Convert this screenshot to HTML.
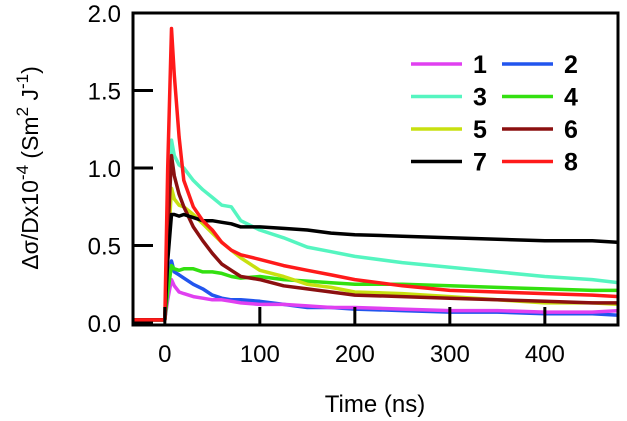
<!DOCTYPE html>
<html><head><meta charset="utf-8"><style>
html,body{margin:0;padding:0;background:#fff;}
svg{display:block;font-family:"Liberation Sans",sans-serif;}
</style></head><body>
<svg id="chart" width="627" height="421" viewBox="0 0 627 421" xmlns="http://www.w3.org/2000/svg">
<g id="series"></g>
<rect x="133" y="13" width="485" height="312" fill="none" stroke="#000" stroke-width="3"/>
<g id="axes"></g>
<g id="legend"></g>
<text x="375" y="412" font-size="24" text-anchor="middle">Time (ns)</text>
<text transform="translate(38,168) rotate(-90)" font-size="23" text-anchor="middle">Δσ/Dx10<tspan dy="-10" font-size="17">-4</tspan><tspan dy="10">  (Sm</tspan><tspan dy="-10" font-size="17">2</tspan><tspan dy="10"> J</tspan><tspan dy="-10" font-size="17">-1</tspan><tspan dy="10">)</tspan></text>
</svg>
<script>
const times = [-33,-3,0,3,7,10,15,20,30,40,50,60,70,80,100,125,150,175,200,250,300,350,400,450,478];
const s1 = [0.02,0.02,0.02,0.15,0.28,0.24,0.2,0.19,0.17,0.16,0.15,0.15,0.14,0.13,0.12,0.12,0.11,0.1,0.1,0.09,0.08,0.08,0.07,0.07,0.08];
const s2 = [0.02,0.02,0.02,0.2,0.4,0.33,0.31,0.29,0.25,0.22,0.18,0.16,0.15,0.15,0.14,0.12,0.1,0.1,0.09,0.08,0.07,0.07,0.06,0.06,0.05];
const s3 = [0.02,0.02,0.02,0.6,1.18,1.08,1.02,1.0,0.92,0.86,0.81,0.76,0.75,0.66,0.6,0.55,0.49,0.46,0.43,0.39,0.36,0.33,0.3,0.28,0.26];
const s4 = [0.02,0.02,0.02,0.2,0.37,0.35,0.34,0.35,0.35,0.33,0.33,0.32,0.3,0.29,0.3,0.28,0.27,0.26,0.25,0.25,0.24,0.23,0.22,0.21,0.21];
const s5 = [0.02,0.02,0.02,0.45,0.87,0.8,0.76,0.75,0.7,0.64,0.58,0.52,0.47,0.42,0.34,0.3,0.25,0.23,0.2,0.19,0.17,0.15,0.13,0.13,0.12];
const s6 = [0.02,0.02,0.02,0.55,1.08,0.95,0.83,0.75,0.62,0.53,0.45,0.38,0.34,0.3,0.28,0.24,0.22,0.2,0.18,0.17,0.16,0.15,0.14,0.13,0.13];
const s7 = [0.02,0.02,0.02,0.4,0.7,0.7,0.69,0.7,0.68,0.66,0.66,0.65,0.64,0.62,0.62,0.61,0.6,0.58,0.57,0.56,0.55,0.54,0.53,0.53,0.52];
const s8 = [0.02,0.02,0.02,1.0,1.9,1.6,1.2,0.92,0.75,0.66,0.6,0.52,0.47,0.44,0.41,0.37,0.34,0.31,0.28,0.24,0.21,0.2,0.19,0.18,0.17];
const seriesNames = ["1","2","3","4","5","6","7","8"];
const seriesColors = ["#e040f0","#2255ee","#55f5c0","#33e010","#c8e010","#8b1010","#000000","#ff1a1a"];
const seriesData = [s1,s2,s3,s4,s5,s6,s7,s8];
const drawOrder = [1,0,3,2,4,5,6,7];
const xTicks = [0,100,200,300,400];
const xTickLabels = ["0","100","200","300","400"];
const yTicks = [0,0.5,1,1.5,2];
const yTickLabels = ["0.0","0.5","1.0","1.5","2.0"];

const NS="http://www.w3.org/2000/svg";
const X0=133,X1=618,Y0=323,Y1=13;
const xmin=-33.5,xmax=477,ymin=0,ymax=2;
function xs(t){return X0+(t-xmin)/(xmax-xmin)*(X1-X0);}
function ys(v){return Y0-(v-ymin)/(ymax-ymin)*(Y0-Y1);}
function mk(tag,attrs,parent){const e=document.createElementNS(NS,tag);for(const k in attrs)e.setAttribute(k,attrs[k]);parent.appendChild(e);return e;}

const sg=document.getElementById('series');
drawOrder.forEach(i=>{
  const d=seriesData[i].map((v,j)=>(j?'L':'M')+xs(times[j]).toFixed(1)+','+ys(v).toFixed(1)).join('');
  const p=mk('path',{d:d,fill:'none',stroke:seriesColors[i],'stroke-width':3.5,'stroke-linejoin':'round'},sg);
  
  
});

const ax=document.getElementById('axes');
xTicks.forEach((t,i)=>{
  const l=mk('line',{x1:xs(t),x2:xs(t),y1:325,y2:307,stroke:'#000','stroke-width':3},ax);
  
  
  const tx=mk('text',{x:xs(t),y:362,'font-size':24,'text-anchor':'middle'},ax);
  tx.textContent=xTickLabels[i];
  
  
});
yTicks.forEach((v,i)=>{
  const l=mk('line',{x1:133,x2:153,y1:ys(v),y2:ys(v),stroke:'#000','stroke-width':3},ax);
  
  
  const tx=mk('text',{x:121,y:ys(v)+9,'font-size':24,'text-anchor':'end'},ax);
  tx.textContent=yTickLabels[i];
  
  
});

const lg=document.getElementById('legend');
seriesNames.forEach((n,i)=>{
  const col=i%2,row=Math.floor(i/2);
  const lx=411+col*91,ly=64+row*32.5;
  const l=mk('line',{x1:lx,x2:lx+51,y1:ly,y2:ly,stroke:seriesColors[i],'stroke-width':3.5},lg);
  
  
  const t=mk('text',{x:lx+62,y:ly+9,'font-size':25,'font-weight':'bold'},lg);
  t.textContent=n;
  
  
});
</script>
</body></html>
